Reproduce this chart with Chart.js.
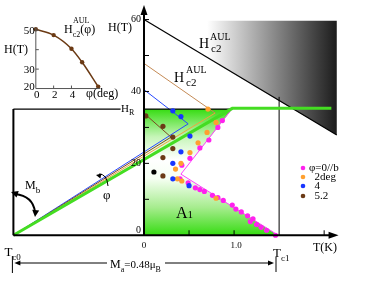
<!DOCTYPE html>
<html>
<head>
<meta charset="utf-8">
<script src="https://cdn.jsdelivr.net/npm/chart.js@4.4.0/dist/chart.umd.min.js"></script>
<style>
  html, body { margin: 0; padding: 0; background: #fff; }
  #wrap { position: relative; width: 382px; height: 283px; }
</style>
</head>
<body>
<div id="wrap"><canvas id="chart"></canvas></div>
<script>
// H-T phase diagram, T in K, H in tesla
const Tc0 = -1.45;
const Tc1 = 1.5;
const HR = 35.1;

// measured points, one pair of arrays per angle
const phi0T = [0.87, 0.82, 0.72, 0.62, 0.51, 0.42, 0.40, 0.49, 0.57, 0.62, 0.67, 0.76, 0.82, 0.88, 0.98, 1.02, 1.08, 1.15, 1.21, 1.18, 1.25, 1.30, 1.36, 1.46];
const phi0H = [31.9, 30.0, 26.5, 24.3, 21.4, 19.5, 15.7, 14.6, 13.2, 12.7, 12.2, 11.1, 10.5, 9.7, 8.4, 7.3, 6.5, 5.4, 4.6, 3.8, 3.0, 2.2, 1.4, 0.0];
const phi2T = [0.71, 0.80, 0.70, 0.60, 0.51, 0.41, 0.35, 0.37, 0.42, 0.80];
const phi2H = [35.1, 31.4, 28.6, 25.7, 23.0, 20.0, 18.4, 15.7, 15.1, 10.3];
const phi4T = [0.32, 0.41, 0.51, 0.41, 0.32, 0.32, 0.50];
const phi4H = [34.6, 33.0, 27.6, 23.2, 20.0, 15.7, 13.8];
const phi52T = [0.02, 0.21, 0.32, 0.32, 0.21, 0.21];
const phi52H = [33.2, 30.3, 27.3, 24.1, 21.6, 16.5];
const extraT = [0.11];
const extraH = [17.6];

// drawn lines
const hc2T = [0, 2.14];          const hc2H = [60, 27.9];
const hc2bT = [0, 0.79];         const hc2bH = [47.8, 34.0];
const greenT = [Tc0, 0.98, 2.08]; const greenH = [0, 35.3, 35.3];
const orangeT = [Tc0, 0.79];     const orangeH = [0, 34.0];
const blueT = [0, 0.49, Tc0];    const blueH = [40.5, 31.0, 0];
const brownT = [0.02, 0.30, Tc0]; const brownH = [33.5, 27.3, 0];
const magT = [0.98, 0.41, 1.49]; const magH = [35.3, 17.0, 0];
const a1T = [0, 0, 0.98, 0.41, 1.49]; const a1H = [0, HR, HR, 17.0, 0];
const grayT = [0, 2.14, 2.14];   const grayH = [59.7, 59.7, 27.9];

// inset: Hc2 vs angle
const phiDeg = [0, 2, 4, 5.2, 7.0];
const hc2Phi = [50.5, 47.5, 40.5, 33.5, 21.0];

// ticks
const yTicks = [0, 10, 20, 30, 40, 50, 60];
const yTickLabels = ['0', '', '20', '', '40', '', '60'];
const xTicks = [0, 0.5, 1.0, 2.0];
const xTickLabels = ['0', '', '1.0', ''];
const insetYTicks = [20, 30, 40, 50];
const insetYLabels = ['20', '30', '', '50'];
const insetXTicks = [0, 2, 4];
const insetXLabels = ['0', '2', '4'];

const legendNames = ['\u03c6=0//b', '  2deg', '  4', '  5.2'];
const legendColors = ['#ff22ee', '#ffa030', '#1836ff', '#6b3a16'];

const serif = '"Liberation Serif", "Times New Roman", serif';

function pts(xs, ys) { return xs.map((v, i) => ({ x: v, y: ys[i] })); }

function lineSet(xs, ys, color, width) {
  return { type: 'line', data: pts(xs, ys), borderColor: color, borderWidth: width,
           pointRadius: 0, fill: false, tension: 0, order: 10 };
}
function dotSet(xs, ys, color) {
  return { type: 'scatter', data: pts(xs, ys), backgroundColor: color, borderWidth: 0,
           pointRadius: 2.6, order: 1 };
}

function greenFill(c) {
  const chart = c.chart;
  if (!chart.chartArea) return 'rgba(60,220,30,0.5)';
  const y0 = chart.scales.y.getPixelForValue(HR);
  const y1 = chart.scales.y.getPixelForValue(0);
  const g = chart.ctx.createLinearGradient(0, y0, 0, y1);
  g.addColorStop(0, '#36dc12');
  g.addColorStop(0.22, '#c6f5b8');
  g.addColorStop(0.4, '#ffffff');
  g.addColorStop(0.55, '#f6fff3');
  g.addColorStop(0.78, '#a6ec8e');
  g.addColorStop(1, '#36dc12');
  return g;
}
function grayFill(c) {
  const chart = c.chart;
  if (!chart.chartArea) return '#888';
  const x0 = chart.scales.x.getPixelForValue(0.7);
  const x1 = chart.scales.x.getPixelForValue(2.14);
  const g = chart.ctx.createLinearGradient(x0, 0, x1, 0);
  g.addColorStop(0, '#ffffff');
  g.addColorStop(1, '#1c1c1c');
  return g;
}

function rich(ctx, x, y, parts, size) {
  let cx = x;
  for (const [t, k, s2] of parts) {
    const s = s2 || (k === 'n' ? size : Math.round(size * 0.72));
    const dy = k === 'sub' ? size * 0.3 : k === 'sup' ? -size * 0.5 : 0;
    ctx.font = s + 'px ' + serif;
    ctx.fillText(t, cx, y + dy);
    cx += ctx.measureText(t).width;
  }
}

function arrowHead(ctx, x, y, ang, len, half) {
  ctx.beginPath();
  ctx.moveTo(x, y);
  ctx.lineTo(x - len * Math.cos(ang) + half * Math.sin(ang), y - len * Math.sin(ang) - half * Math.cos(ang));
  ctx.lineTo(x - len * Math.cos(ang) - half * Math.sin(ang), y - len * Math.sin(ang) + half * Math.cos(ang));
  ctx.closePath();
  ctx.fill();
}

const decor = {
  id: 'decor',
  afterDatasetsDraw(chart) {
    const { ctx, scales } = chart;
    const X = v => scales.x.getPixelForValue(v);
    const Y = v => scales.y.getPixelForValue(v);
    const XI = v => scales.xi.getPixelForValue(v);
    const YI = v => scales.yi.getPixelForValue(v);
    ctx.save();
    ctx.strokeStyle = '#000';
    ctx.fillStyle = '#000';

    // main axes
    ctx.lineWidth = 2;
    ctx.beginPath();
    ctx.moveTo(X(0), Y(0)); ctx.lineTo(X(0), Y(62));
    ctx.moveTo(X(Tc0), Y(0)); ctx.lineTo(X(2.1), Y(0));
    ctx.moveTo(X(Tc0), Y(0)); ctx.lineTo(X(Tc0), Y(HR));
    ctx.stroke();
    arrowHead(ctx, X(0), Y(64.05), -Math.PI / 2, 10, 3.5);
    arrowHead(ctx, X(2.16), Y(0), 0, 10, 3.5);

    ctx.lineWidth = 1;
    ctx.beginPath();
    yTicks.forEach(v => { if (v > 0) { ctx.moveTo(X(0), Y(v)); ctx.lineTo(X(0) + 5, Y(v)); } });
    xTicks.forEach(v => { if (v > 0) { ctx.moveTo(X(v), Y(0)); ctx.lineTo(X(v), Y(0) - 5); } });
    ctx.stroke();

    ctx.textBaseline = 'middle';
    ctx.textAlign = 'right';
    ctx.font = '10px ' + serif;
    yTicks.forEach((v, i) => {
      if (yTickLabels[i]) ctx.fillText(yTickLabels[i], X(0) - 3, v === 0 ? Y(v) - 5 : Y(v));
    });
    ctx.textAlign = 'center';
    ctx.font = '9px ' + serif;
    xTicks.forEach((v, i) => {
      if (xTickLabels[i]) ctx.fillText(xTickLabels[i], X(v) + (v > 0 ? 2 : 0), Y(0) + 10);
    });

    ctx.textBaseline = 'alphabetic';
    ctx.textAlign = 'left';
    rich(ctx, X(0) - 36, 31, [['H(T)', 'n']], 12);
    rich(ctx, 313, 251, [['T(K)', 'n']], 12);
    rich(ctx, X(Tc0) - 9, 256, [['T', 'n'], ['c0', 'sub', 9]], 13);
    rich(ctx, X(Tc1) - 6, 257, [['T', 'n'], ['c1', 'sub', 9]], 13);
    rich(ctx, X(0) - 23, Y(HR) + 3, [['H', 'n'], ['R', 'sub', 8]], 11);

    // Hc2 labels
    rich(ctx, 199, 48, [['H', 'n']], 14);
    rich(ctx, 210, 40, [['AUL', 'n']], 10);
    rich(ctx, 211, 52, [['c2', 'n']], 11);
    rich(ctx, 174, 82, [['H', 'n']], 14);
    rich(ctx, 186, 73, [['AUL', 'n']], 10);
    rich(ctx, 186, 86, [['c2', 'n']], 11);

    rich(ctx, 176, 218, [['A', 'n'], ['1', 'n', 11]], 16);
    rich(ctx, 25, 189, [['M', 'n'], ['b', 'sub', 9]], 12);
    rich(ctx, 103, 199, [['\u03c6', 'n']], 13);

    // Ma arrow under the axis
    ctx.lineWidth = 1;
    ctx.beginPath();
    ctx.moveTo(X(Tc0) + 4, 263); ctx.lineTo(107, 263);
    ctx.moveTo(165, 263); ctx.lineTo(270, 263);
    ctx.moveTo(X(Tc0) - 1, 256); ctx.lineTo(X(Tc0) - 1, 273);
    ctx.moveTo(276, 257); ctx.lineTo(276, 272);
    ctx.stroke();
    arrowHead(ctx, X(Tc0) + 1, 263, Math.PI, 6, 2.5);
    arrowHead(ctx, 274, 263, 0, 6, 2.5);
    rich(ctx, 110, 268, [['M', 'n'], ['a', 'sub', 8], ['=0.48\u03bc', 'n', 11], ['B', 'sub', 8]], 12);

    // curved arrows
    ctx.lineWidth = 2;
    ctx.beginPath();
    ctx.moveTo(15, 194);
    ctx.quadraticCurveTo(33, 196, 35, 212);
    ctx.stroke();
    arrowHead(ctx, 11, 192, Math.atan2(-2, -6), 7, 3.5);
    arrowHead(ctx, 35, 217, Math.PI / 2 + 0.1, 7, 3.5);
    ctx.lineWidth = 1;
    ctx.beginPath();
    ctx.moveTo(99, 174);
    ctx.quadraticCurveTo(107, 174, 108, 186);
    ctx.stroke();
    arrowHead(ctx, 96, 175, Math.PI + 0.2, 5, 2.5);

    // legend
    ctx.textBaseline = 'middle';
    ctx.font = '11px ' + serif;
    const legY = [168, 177, 186, 196];
    legendNames.forEach((n, i) => {
      ctx.fillStyle = legendColors[i];
      ctx.beginPath(); ctx.arc(303, legY[i], 2.3, 0, Math.PI * 2); ctx.fill();
      ctx.fillStyle = '#000';
      ctx.fillText(n, 309, legY[i]);
    });

    // inset axes
    ctx.strokeStyle = '#555';
    ctx.lineWidth = 1;
    ctx.beginPath();
    ctx.moveTo(XI(0), YI(51.5)); ctx.lineTo(XI(0), YI(20)); ctx.lineTo(XI(7.2), YI(20));
    insetYTicks.forEach(v => { if (v > 20) { ctx.moveTo(XI(0), YI(v)); ctx.lineTo(XI(0) + 3, YI(v)); } });
    insetXTicks.forEach(v => { if (v > 0) { ctx.moveTo(XI(v), YI(20)); ctx.lineTo(XI(v), YI(20) - 3); } });
    ctx.stroke();
    ctx.fillStyle = '#000';
    ctx.textAlign = 'right';
    ctx.font = '11px ' + serif;
    insetYTicks.forEach((v, i) => {
      if (insetYLabels[i]) ctx.fillText(insetYLabels[i], XI(0) - 1, YI(v) + (v === 20 ? -1 : 1));
    });
    ctx.textAlign = 'center';
    insetXTicks.forEach((v, i) => ctx.fillText(insetXLabels[i], XI(v) + 1, YI(20) + 7));
    ctx.textAlign = 'left';
    ctx.textBaseline = 'alphabetic';
    rich(ctx, 4, 53, [['H(T)', 'n']], 12);
    rich(ctx, 86, 97, [['\u03c6(deg)', 'n']], 12);
    rich(ctx, 64, 33, [['H', 'n'], ['c2', 'sub', 8], ['(\u03c6)', 'n']], 12);
    rich(ctx, 73, 23, [['AUL', 'n']], 8);

    ctx.restore();
  }
};

new Chart(document.getElementById('chart'), {
  type: 'scatter',
  data: {
    datasets: [
      { type: 'line', data: pts(grayT, grayH), fill: 'shape', backgroundColor: grayFill,
        borderWidth: 0, pointRadius: 0, order: 30 },
      { type: 'line', data: pts(a1T, a1H), fill: 'shape', backgroundColor: greenFill,
        borderWidth: 0, pointRadius: 0, order: 29 },
      lineSet(hc2T, hc2H, '#000000', 1.2),
      lineSet(hc2bT, hc2bH, '#c48a55', 1),
      lineSet([Tc0, -0.26], [HR, HR], '#000000', 1.2),
      lineSet([0, 0.98], [HR, HR], '#000000', 1.2),
      lineSet([Tc1, Tc1], [0, 38.5], '#000000', 1),
      lineSet(brownT, brownH, '#7a4a20', 1),
      lineSet(blueT, blueH, '#2848ff', 1),
      lineSet(orangeT, orangeH, '#f2a040', 1),
      lineSet(magT, magH, '#ff40ff', 1),
      Object.assign(lineSet(greenT, greenH, '#44dd22', 3), { order: 9 }),
      dotSet(phi52T, phi52H, '#6b3a16'),
      dotSet(extraT, extraH, '#000000'),
      dotSet(phi4T, phi4H, '#1836ff'),
      dotSet(phi2T, phi2H, '#ffa030'),
      dotSet(phi0T, phi0H, '#ff22ee'),
      { type: 'line', data: pts(phiDeg, hc2Phi), xAxisID: 'xi', yAxisID: 'yi',
        borderColor: '#6b3a14', borderWidth: 1.5, tension: 0.4, cubicInterpolationMode: 'monotone',
        pointRadius: 2.2, pointBackgroundColor: '#6b3a14', pointBorderWidth: 0, fill: false, order: 1 }
    ]
  },
  options: {
    responsive: true,
    maintainAspectRatio: false,
    animation: false,
    layout: { padding: 0 },
    plugins: { legend: { display: false }, tooltip: { enabled: false } },
    scales: {
      x: { type: 'linear', min: -143 / 92, max: 239 / 92, display: false },
      y: { type: 'linear', min: -45 / 3.7, max: 238 / 3.7, display: false },
      xi: { type: 'linear', axis: 'x', min: -32.5 / 9.1, max: 349.5 / 9.1, display: false },
      yi: { type: 'linear', axis: 'y', min: -78, max: 63.5, display: false }
    }
  },
  plugins: [decor]
});
</script>
</body>
</html>
